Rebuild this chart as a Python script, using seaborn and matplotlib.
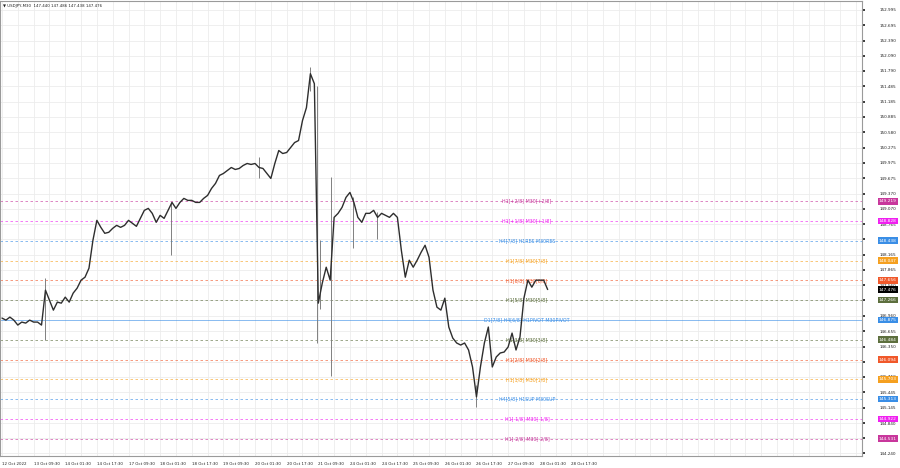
"""USDJPY M30 with Murrey math levels"""
import numpy as np
import pandas as pd
import seaborn as sns
from matplotlib import pyplot as plt
from matplotlib import transforms

# closes every 4th M30 bar (2h)
closes = [
    146.912, 146.872, 146.931, 146.872, 146.774, 146.833, 146.813, 146.872,
    146.833, 146.833, 146.774, 147.463, 147.266, 147.069, 147.227, 147.207,
    147.325, 147.227, 147.404, 147.502, 147.660, 147.719, 147.896, 148.447,
    148.841, 148.703, 148.585, 148.605, 148.683, 148.742, 148.703, 148.742,
    148.841, 148.782, 148.723, 148.880, 149.038, 149.077, 148.979, 148.802,
    148.939, 148.880, 149.038, 149.195, 149.077, 149.195, 149.274, 149.235,
    149.235, 149.195, 149.195, 149.274, 149.333, 149.471, 149.570, 149.727,
    149.766, 149.825, 149.884, 149.845, 149.865, 149.924, 149.963, 149.944,
    149.963, 149.884, 149.865, 149.766, 149.668, 149.963, 150.219, 150.160,
    150.180, 150.278, 150.376, 150.416, 150.810, 151.066, 151.735, 151.538,
    147.207, 147.601, 147.916, 147.660, 148.900, 148.979, 149.097, 149.294,
    149.392, 149.195, 148.900, 148.802, 148.979, 148.979, 149.038, 148.900,
    148.979, 148.939, 148.900, 148.979, 148.900, 148.250, 147.719, 148.054,
    147.916, 148.054, 148.211, 148.349, 148.113, 147.463, 147.128, 147.069,
    147.305, 146.735, 146.518, 146.420, 146.380, 146.420, 146.282, 145.947,
    145.357, 145.947, 146.420, 146.735, 145.947, 146.144, 146.223, 146.242,
    146.341, 146.616, 146.282, 146.538, 147.305, 147.660, 147.522, 147.660,
    147.660, 147.660, 147.476,
]
bar_step = 4

# long wicks: bar index, low, high
wick_bars = [44, 171, 260, 312, 319, 322, 333, 355, 379, 480]
wick_lows = [146.479, 148.152, 149.668, 151.400, 146.420, 147.100, 145.771,
             148.290, 148.480, 145.160]
wick_highs = [147.699, 149.200, 150.100, 151.872, 151.500, 148.447, 149.688,
              149.300, 149.000, 145.600]

x_tick_labels = [
    "12 Oct 2022", "13 Oct 09:30", "14 Oct 01:30", "14 Oct 17:30",
    "17 Oct 09:30", "18 Oct 01:30", "18 Oct 17:30", "19 Oct 09:30",
    "20 Oct 01:30", "20 Oct 17:30", "21 Oct 09:30", "24 Oct 01:30",
    "24 Oct 17:30", "25 Oct 09:30", "26 Oct 01:30", "26 Oct 17:30",
    "27 Oct 09:30", "28 Oct 01:30", "28 Oct 17:30",
]
y_ticks = [
    152.995, 152.695, 152.390, 152.090, 151.790, 151.485, 151.185, 150.885,
    150.580, 150.275, 149.975, 149.675, 149.370, 149.070, 148.765, 148.465,
    148.165, 147.865, 147.560, 147.260, 146.960, 146.655, 146.350, 146.050,
    145.750, 145.445, 145.145, 144.840, 144.540, 144.240,
]

level_prices = [149.219, 148.828, 148.438, 148.047, 147.656, 147.266, 146.875,
                146.484, 146.094, 145.703, 145.313, 144.922, 144.531]
level_labels = [
    "H1[+2/8] M30[+2/8]", "H1[+1/8] M30[+1/8]", "H4[7/8] H1RES M30RES",
    "H1[7/8] M30[7/8]", "H1[6/8] M30[6/8]", "H1[5/8] M30[5/8]",
    "D1[7/8] H4[6/8] H1PIVOT M30PIVOT", "H1[3/8] M30[3/8]",
    "H1[2/8] M30[2/8]", "H1[1/8] M30[1/8]", "H4[5/8] H1SUP M30SUP",
    "H1[-1/8] M30[-1/8]", "H1[-2/8] M30[-2/8]",
]
level_colors = ["#c8379c", "#f020f0", "#3a8ee6", "#f5a020", "#f0582a",
                "#5d6f3e", "#3a8ee6", "#5d6f3e", "#f0582a", "#f5a020",
                "#3a8ee6", "#f020f0", "#c8379c"]
last_price = 147.476


def plot_chart(ax):
    df = pd.DataFrame({"bar": np.arange(len(closes)) * bar_step, "close": closes})

    ax.set_xlim(-2, 870)
    ax.set_ylim(144.19, 153.17)

    # grid
    for xb in range(0, 880, 16):
        ax.axvline(xb, color="#ececec", lw=0.6, zorder=0)
    for yt in y_ticks:
        ax.axhline(yt, color="#ececec", lw=0.6, zorder=0)

    # murrey levels
    for price, label, c in zip(level_prices, level_labels, level_colors):
        ls = "-" if "PIVOT" in label else (0, (3, 3))
        ax.axhline(price, color=c, lw=0.6, ls=ls, alpha=0.7, zorder=1)
        ax.text(531, price, label, color=c, fontsize=3.4, ha="center",
                va="center", zorder=2)

    ax.vlines(wick_bars, wick_lows, wick_highs, color="#808080", lw=0.7, zorder=3)
    sns.lineplot(data=df, x="bar", y="close", ax=ax, color="#2e2e2e",
                 linewidth=1.0, zorder=4)

    # right axis
    ax.yaxis.tick_right()
    ax.set_yticks(y_ticks)
    ax.set_yticklabels([f"{v:.3f}" for v in y_ticks])
    ax.tick_params(axis="y", labelsize=3.0, length=2, pad=11, colors="#222222")
    ax.set_xticks(np.arange(len(x_tick_labels)) * 32)
    ax.set_xticklabels(x_tick_labels, ha="left")
    ax.tick_params(axis="x", labelsize=2.9, length=2, pad=2, colors="#222222")
    ax.set_xlabel("")
    ax.set_ylabel("")
    for s in ax.spines.values():
        s.set_color("#9a9a9a")
        s.set_linewidth(0.8)

    trans = transforms.blended_transform_factory(ax.transAxes, ax.transData)
    boxes = list(zip(level_prices, level_colors)) + [(last_price, "#000000")]
    for price, c in boxes:
        ax.text(1.0197, price, f"{price:.3f}", transform=trans, fontsize=3.2,
                color="white", ha="left", va="center", clip_on=False, zorder=6,
                bbox=dict(boxstyle="square,pad=0.3", fc=c, ec="none"))

    ax.text(0.003, 0.993, "\u25bc USDJPY,M30  147.440 147.486 147.438 147.476",
            transform=ax.transAxes, fontsize=2.8, ha="left", va="top",
            color="#222222")


if __name__ == "__main__":
    sns.set_theme(style="white")
    plt.rcParams["font.family"] = ["DejaVu Sans"]
    fig = plt.figure(figsize=(9, 4.68), dpi=100)
    ax = fig.add_axes([0.0, 12 / 468, 862 / 900, 1 - 13 / 468])
    plot_chart(ax)
    fig.savefig("out.png", dpi=100, facecolor="white")
